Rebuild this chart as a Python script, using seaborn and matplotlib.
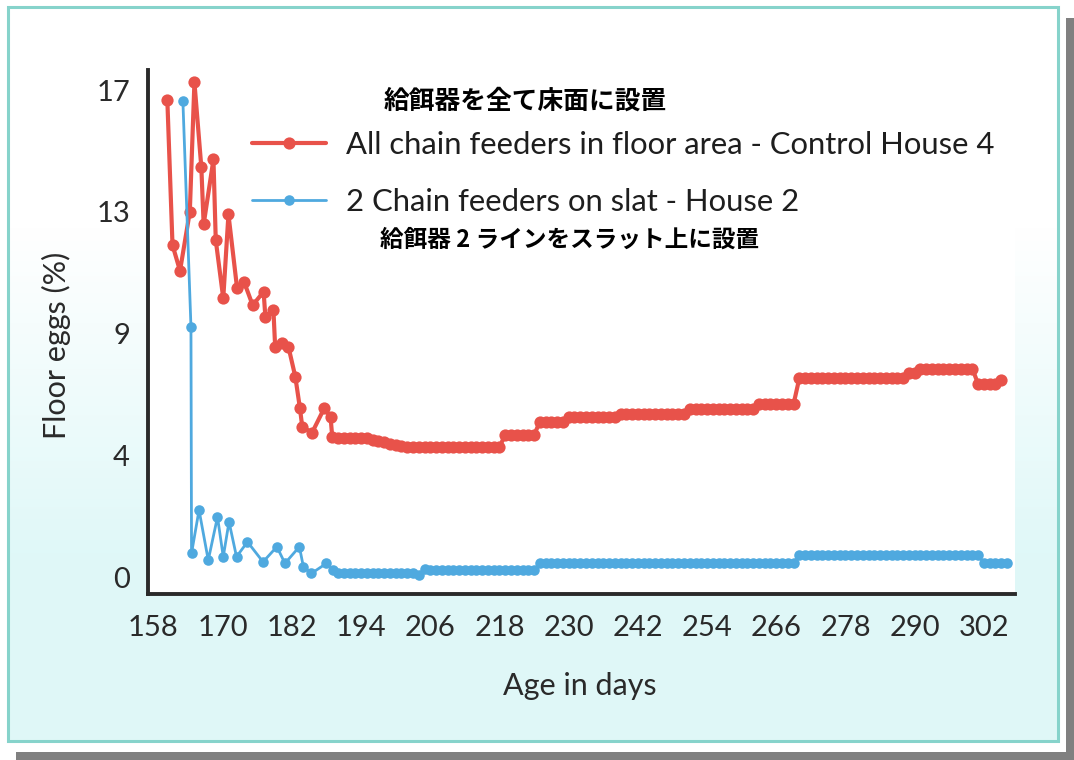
import matplotlib
matplotlib.use("Agg")
import matplotlib.pyplot as plt
from matplotlib.patches import Rectangle
import numpy as np
import pandas as pd
import seaborn as sns

# ---------------- data ----------------
red_label = "All chain feeders in floor area - Control House 4"
blue_label = "2 Chain feeders on slat - House 2"
jp_red = "給餌器を全て床面に設置"
jp_blue = "給餌器 2 ラインをスラット上に設置"
x_title = "Age in days"
y_title = "Floor eggs (%)"

x_ticks = [158, 170, 182, 194, 206, 218, 230, 242, 254, 266, 278, 290, 302]
y_tick_pos = [0, 4.25, 8.5, 12.75, 17]
y_tick_labels = ["0", "4", "9", "13", "17"]

red_days_early = [160.4, 161.3, 162.6, 164.3, 165.1, 166.3, 166.7, 168.4, 168.8,
                  170.1, 171.0, 172.5, 173.7, 175.2, 177.1, 177.4, 178.8, 179.1,
                  180.3, 181.4, 182.6, 183.4, 183.8, 185.5, 187.6, 188.7, 189.0]
red_vals_early = [16.67, 11.59, 10.69, 12.75, 17.27, 14.30, 12.31, 14.58, 11.76,
                  9.73, 12.66, 10.08, 10.31, 9.49, 9.96, 9.09, 9.32, 8.04,
                  8.16, 8.04, 6.99, 5.89, 5.25, 5.04, 5.89, 5.60, 4.90]
red_daily_first = 190
red_vals_daily = [
    4.84, 4.84, 4.84, 4.84, 4.84, 4.84,                         # 190-195
    4.80, 4.75, 4.70, 4.65, 4.60, 4.56,                         # 196-201
    4.55, 4.55, 4.55, 4.55, 4.55, 4.55, 4.55, 4.55, 4.55,       # 202-210
    4.55, 4.55, 4.55, 4.55, 4.55, 4.55, 4.55, 4.55,             # 211-218
    4.96, 4.96, 4.96, 4.96, 4.96, 4.96,                         # 219-224
    5.42, 5.42, 5.42, 5.42, 5.42,                               # 225-229
    5.60, 5.60, 5.60, 5.60, 5.60, 5.60, 5.60, 5.60, 5.60,       # 230-238
    5.71, 5.71, 5.71, 5.71, 5.71, 5.71, 5.71, 5.71, 5.71, 5.71, 5.71, 5.71,  # 239-250
    5.86, 5.86, 5.86, 5.86, 5.86, 5.86, 5.86, 5.86, 5.86, 5.86, 5.86, 5.86,  # 251-262
    6.04, 6.04, 6.04, 6.04, 6.04, 6.04, 6.04,                   # 263-269
    6.94, 6.94, 6.94, 6.94, 6.94, 6.94, 6.94, 6.94, 6.94, 6.94,  # 270-279
    6.94, 6.94, 6.94, 6.94, 6.94, 6.94, 6.94, 6.94, 6.94,        # 280-288
    7.11, 7.11,                                                  # 289-290
    7.28, 7.28, 7.28, 7.28, 7.28, 7.28, 7.28, 7.28, 7.28, 7.28,  # 291-300
    6.74, 6.74, 6.74, 6.74,                                      # 301-304
    6.88,                                                        # 305
]

blue_days_early = [163.1, 164.5, 164.6, 165.9, 167.5, 169.1, 170.1, 171.1, 172.4,
                   174.3, 177.0, 179.4, 180.8, 183.3, 184.0, 185.4, 188.0, 189.2]
blue_vals_early = [16.62, 8.74, 0.83, 2.34, 0.59, 2.10, 0.71, 1.93, 0.71,
                   1.23, 0.53, 1.06, 0.48, 1.06, 0.36, 0.13, 0.48, 0.24]
blue_daily_first = 190
blue_vals_daily = [
    0.13, 0.13, 0.13, 0.13, 0.13, 0.13, 0.13, 0.13, 0.13, 0.13, 0.13, 0.13, 0.13, 0.13,  # 190-203
    0.07, 0.30,                                                  # 204-205
    0.24, 0.24, 0.24, 0.24, 0.24, 0.24, 0.24, 0.24, 0.24, 0.24,  # 206-215
    0.24, 0.24, 0.24, 0.24, 0.24, 0.24, 0.24, 0.24, 0.24,        # 216-224
    0.48, 0.48, 0.48, 0.48, 0.48, 0.48, 0.48, 0.48, 0.48, 0.48,  # 225-234
    0.48, 0.48, 0.48, 0.48, 0.48, 0.48, 0.48, 0.48, 0.48, 0.48,  # 235-244
    0.48, 0.48, 0.48, 0.48, 0.48, 0.48, 0.48, 0.48, 0.48, 0.48,  # 245-254
    0.48, 0.48, 0.48, 0.48, 0.48, 0.48, 0.48, 0.48, 0.48, 0.48,  # 255-264
    0.48, 0.48, 0.48, 0.48, 0.48,                                # 265-269
    0.77, 0.77, 0.77, 0.77, 0.77, 0.77, 0.77, 0.77, 0.77, 0.77,  # 270-279
    0.77, 0.77, 0.77, 0.77, 0.77, 0.77, 0.77, 0.77, 0.77, 0.77,  # 280-289
    0.77, 0.77, 0.77, 0.77, 0.77, 0.77, 0.77, 0.77, 0.77, 0.77,  # 290-299
    0.77, 0.77,                                                  # 300-301
    0.48, 0.48, 0.48, 0.48, 0.48,                                # 302-306
]

red_days = red_days_early + list(range(red_daily_first, red_daily_first + len(red_vals_daily)))
red_vals = red_vals_early + red_vals_daily
blue_days = blue_days_early + list(range(blue_daily_first, blue_daily_first + len(blue_vals_daily)))
blue_vals = blue_vals_early + blue_vals_daily

df = pd.concat([
    pd.DataFrame({"day": red_days, "eggs": red_vals, "series": red_label}),
    pd.DataFrame({"day": blue_days, "eggs": blue_vals, "series": blue_label}),
], ignore_index=True)

# ---------------- style ----------------
RED = "#E8524A"
BLUE = "#4FA9DF"
INK = "#2A2A2A"

sns.set_theme(style="white")
plt.rcParams["font.family"] = ["Lato", "DejaVu Sans"]

W, H = 1074, 760
fig = plt.figure(figsize=(W / 100, H / 100), dpi=100)
fig.patch.set_facecolor("white")


def fx(px):
    return px / W


def fy(py):
    return 1 - py / H


# drop shadow
fig.add_artist(Rectangle((fx(1066), fy(760)), 8 / W, (760 - 18) / H,
                         transform=fig.transFigure, facecolor="#808080", edgecolor="none", zorder=0))
fig.add_artist(Rectangle((fx(16), fy(760)), (1074 - 16) / W, 8 / H,
                         transform=fig.transFigure, facecolor="#808080", edgecolor="none", zorder=0))

# frame background (white top fading to pale cyan at the bottom)
bg = fig.add_axes([fx(8), fy(741), (1058 - 8) / W, (741 - 7) / H], zorder=0)
t = np.clip((np.linspace(7, 741, 300) - 230) / (560 - 230), 0, 1)[:, None]
white = np.array([1.0, 1.0, 1.0])
cyan = np.array([0.875, 0.972, 0.972])
grad = (white[None, :] * (1 - t) + cyan[None, :] * t)[:, None, :]
bg.imshow(grad, aspect="auto", extent=[0, 1, 0, 1], origin="upper")
bg.set_xlim(0, 1)
bg.set_ylim(0, 1)
bg.axis("off")
fig.add_artist(Rectangle((fx(8), fy(741)), (1058 - 8) / W, (741 - 7) / H,
                         transform=fig.transFigure, facecolor="none",
                         edgecolor="#86D3CB", linewidth=2.2, zorder=1))

# main axes
ax = fig.add_axes([fx(148), fy(594), (1015 - 148) / W, (594 - 70) / H], zorder=2)
ax.set_facecolor("white")

sns.lineplot(data=df[df.series == red_label], x="day", y="eggs", ax=ax, color=RED,
             linewidth=3.0, marker="o", markersize=8.8, markeredgewidth=0,
             estimator=None, sort=False, label=red_label, zorder=3)
sns.lineplot(data=df[df.series == blue_label], x="day", y="eggs", ax=ax, color=BLUE,
             linewidth=2.0, marker="o", markersize=7.6, markeredgewidth=0,
             estimator=None, sort=False, label=blue_label, zorder=4)

ax.set_xlim(157.05, 307.4)
ax.set_ylim(-0.59, 17.70)
ax.set_xticks(x_ticks)
ax.set_xticklabels([str(v) for v in x_ticks])
ax.set_yticks(y_tick_pos)
ax.set_yticklabels(y_tick_labels)
ax.tick_params(axis="both", length=0, labelsize=21, colors=INK)
ax.tick_params(axis="y", pad=13)
ax.tick_params(axis="x", pad=15)

for s in ["top", "right"]:
    ax.spines[s].set_visible(False)
for s in ["left", "bottom"]:
    ax.spines[s].set_color(INK)
    ax.spines[s].set_linewidth(2.8)

ax.set_xlabel(x_title, fontsize=22, color=INK)
ax.set_ylabel(y_title, fontsize=22, color=INK)
ax.xaxis.set_label_coords((580 - 148) / (1015 - 148), (594 - 686) / (594 - 70))
ax.xaxis.label.set_va("center")
ax.yaxis.set_label_coords((56 - 148) / (1015 - 148), (594 - 345) / (594 - 70))
ax.yaxis.label.set_rotation_mode("default")
ax.yaxis.label.set_va("center")
ax.yaxis.label.set_ha("center")

leg = ax.legend(loc="upper left", bbox_to_anchor=(fx(252), fy(131)),
                bbox_transform=fig.transFigure, frameon=False, fontsize=22.3,
                handlelength=2.4, handletextpad=0.62, labelspacing=0.93,
                borderpad=0, borderaxespad=0)
for txt in leg.get_texts():
    txt.set_color("#1E1E1E")

jp_font = ["Noto Sans CJK JP", "DejaVu Sans"]
fig.text(fx(525), fy(101), jp_red, ha="center", va="center", fontsize=18.5,
         fontweight="bold", family=jp_font, color="black", zorder=5)
fig.text(fx(570), fy(240), jp_blue, ha="center", va="center", fontsize=17,
         fontweight="bold", family=jp_font, color="black", zorder=5)

fig.savefig("out.png", dpi=100)
